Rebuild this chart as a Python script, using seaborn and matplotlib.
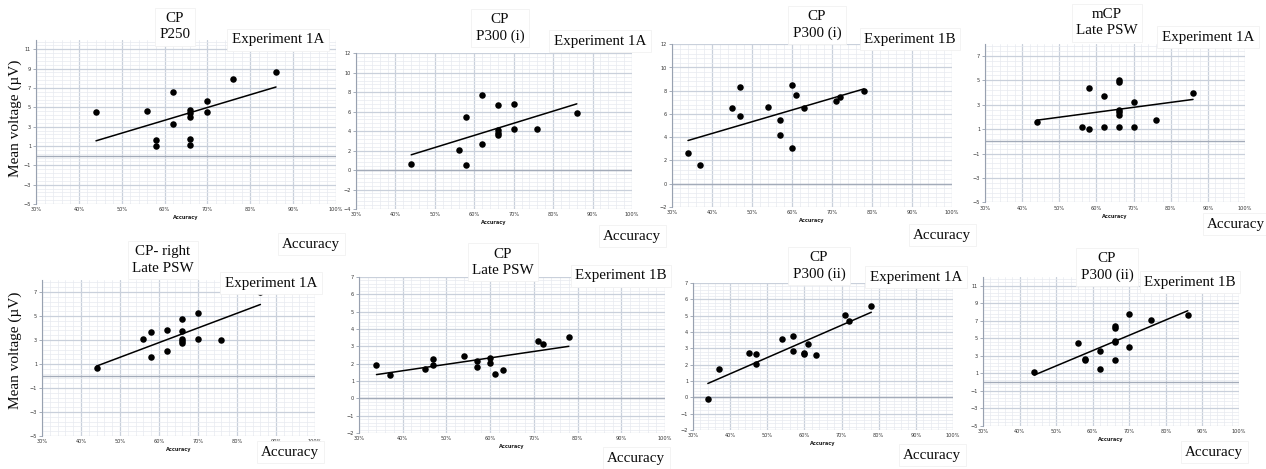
import matplotlib
matplotlib.use("Agg")
import matplotlib.pyplot as plt
import seaborn as sns
import pandas as pd
import numpy as np
from matplotlib.ticker import MultipleLocator, FixedLocator, PercentFormatter

sns.set_theme(style="white")
plt.rcParams['font.family'] = ['DejaVu Sans']

# ---------------- data (accuracy as fraction, mean voltage in µV) ----------------
p250_x = [0.44, 0.56, 0.58, 0.58, 0.62, 0.62, 0.66, 0.66, 0.66, 0.66, 0.66, 0.70, 0.70, 0.76, 0.86]
p250_y = [4.48, 4.59, 1.62, 1.00, 6.59, 3.31, 4.72, 4.38, 4.00, 1.76, 1.10, 5.66, 4.48, 7.97, 8.69]

p300i_1a_x = [0.44, 0.56, 0.58, 0.58, 0.62, 0.62, 0.66, 0.66, 0.66, 0.66, 0.70, 0.70, 0.76, 0.86]
p300i_1a_y = [0.58, 2.05, 5.45, 0.48, 7.67, 2.67, 6.64, 4.08, 3.84, 3.60, 6.78, 4.18, 4.25, 5.86]

p300i_1b_x = [0.34, 0.37, 0.45, 0.47, 0.47, 0.54, 0.57, 0.57, 0.60, 0.60, 0.61, 0.63, 0.71, 0.72, 0.78]
p300i_1b_y = [2.61, 1.61, 6.52, 8.28, 5.80, 6.58, 5.49, 4.14, 8.51, 3.10, 7.61, 6.52, 7.07, 7.47, 7.96]

mcp_psw_x = [0.44, 0.56, 0.58, 0.58, 0.62, 0.62, 0.66, 0.66, 0.66, 0.66, 0.66, 0.66, 0.70, 0.70, 0.76, 0.86]
mcp_psw_y = [1.60, 1.19, 4.36, 1.03, 3.70, 1.19, 5.02, 4.85, 2.58, 2.39, 2.12, 1.19, 3.21, 1.16, 1.77, 3.95]

cpr_psw_x = [0.44, 0.56, 0.58, 0.58, 0.62, 0.62, 0.66, 0.66, 0.66, 0.66, 0.66, 0.70, 0.70, 0.76, 0.86]
cpr_psw_y = [0.64, 3.11, 3.69, 1.56, 3.83, 2.08, 4.72, 3.75, 3.11, 2.94, 2.78, 5.22, 3.08, 3.03, 7.00]

cp_psw_x = [0.34, 0.37, 0.45, 0.47, 0.47, 0.54, 0.57, 0.57, 0.60, 0.60, 0.61, 0.63, 0.71, 0.72, 0.78]
cp_psw_y = [1.90, 1.35, 1.67, 2.27, 1.94, 2.46, 2.17, 1.81, 2.31, 2.02, 1.40, 1.62, 3.33, 3.12, 3.52]

p300ii_1a_x = [0.34, 0.37, 0.45, 0.47, 0.47, 0.54, 0.57, 0.57, 0.60, 0.60, 0.61, 0.63, 0.71, 0.72, 0.78]
p300ii_1a_y = [-0.12, 1.73, 2.69, 2.63, 2.02, 3.57, 3.76, 2.86, 2.71, 2.65, 3.29, 2.61, 5.04, 4.69, 5.59]

p300ii_1b_x = [0.44, 0.56, 0.58, 0.58, 0.62, 0.62, 0.66, 0.66, 0.66, 0.66, 0.66, 0.70, 0.70, 0.76, 0.86]
p300ii_1b_y = [1.15, 4.46, 2.63, 2.48, 3.59, 1.53, 6.44, 6.13, 4.69, 4.54, 2.48, 7.81, 4.04, 7.08, 7.62]

titles = ["CP\nP250", "CP\nP300 (i)", "CP\nP300 (i)", "mCP\nLate PSW",
          "CP- right\nLate PSW", "CP\nLate PSW", "CP\nP300 (ii)", "CP\nP300 (ii)"]
experiments = ["Experiment 1A", "Experiment 1A", "Experiment 1B", "Experiment 1A",
               "Experiment 1A", "Experiment 1B", "Experiment 1A", "Experiment 1B"]
xs = [p250_x, p300i_1a_x, p300i_1b_x, mcp_psw_x, cpr_psw_x, cp_psw_x, p300ii_1a_x, p300ii_1b_x]
ys = [p250_y, p300i_1a_y, p300i_1b_y, mcp_psw_y, cpr_psw_y, cp_psw_y, p300ii_1a_y, p300ii_1b_y]
ylims = [(-5, 12, 2), (-4, 12, 2), (-2, 12, 2), (-5, 8, 2),
         (-5, 8, 2), (-2, 7, 1), (-2, 7, 1), (-5, 12, 2)]

# ---------------- layout (pixels) ----------------
W, H = 1266, 469
fig = plt.figure(figsize=(W / 100, H / 100), dpi=100)
fig.patch.set_facecolor("white")

rects = [(36, 39.6, 336, 204), (356, 53.3, 632, 209), (672, 44.3, 952, 206.7), (985, 43.8, 1245, 202.3),
         (42, 280, 315, 436), (359, 277, 665, 433), (693, 283, 953, 430), (983, 277, 1239, 426)]
title_pos = [(175, 27), (500, 28), (817, 25), (1107, 23), (163, 260), (503, 262), (819, 266), (1107, 267)]
exp_pos = [(278, 40), (600, 41), (910, 39), (1208, 37), (271, 283), (621, 276), (916, 277), (1190, 282)]
acc_pos = [(311, 244), (632, 236), (942, 235), (1236, 224), (290, 452), (636, 458), (932, 455), (1214, 452)]


def px_rect(l, t, r, b):
    return [l / W, 1 - b / H, (r - l) / W, (b - t) / H]


serif = "Liberation Serif"
box = dict(boxstyle="square,pad=0.3", fc="white", ec="#f1f1f1", lw=0.6)
FS = 10.8

for i in range(8):
    ax = fig.add_axes(px_rect(*rects[i]))
    df = pd.DataFrame({"Accuracy": xs[i], "Voltage": ys[i]})
    ylo, yhi, ystep = ylims[i]
    ax.set_axisbelow(True)
    sns.regplot(data=df, x="Accuracy", y="Voltage", ax=ax, ci=None, color="black",
                scatter_kws=dict(s=22, linewidths=0, alpha=1, zorder=4),
                line_kws=dict(lw=1.1, zorder=3))
    ax.set_xlim(0.3, 1.0)
    ax.set_ylim(ylo, yhi)
    ax.xaxis.set_major_locator(MultipleLocator(0.1))
    ax.xaxis.set_minor_locator(MultipleLocator(0.02))
    yt = np.arange(ylo, yhi + 1e-6, ystep)
    ax.yaxis.set_major_locator(FixedLocator(yt))
    ax.yaxis.set_minor_locator(FixedLocator(np.arange(ylo, yhi + 1e-6, ystep / 5)))
    ax.xaxis.set_major_formatter(PercentFormatter(1.0, decimals=0))
    ax.grid(which="major", color="#c9d0db", lw=0.9)
    ax.grid(which="minor", color="#e7eaf0", lw=0.5)
    ax.axhline(0, color="#a3abb9", lw=1.0, zorder=2)
    for s in ["top", "right", "bottom"]:
        ax.spines[s].set_visible(False)
    ax.spines["left"].set_color("#98a1b0")
    ax.spines["left"].set_linewidth(0.8)
    ax.tick_params(axis="x", which="both", length=0, labelsize=3.6, pad=2.5, labelcolor="#333333")
    ax.tick_params(axis="y", which="major", length=2, width=0.6, color="#98a1b0",
                   labelsize=3.6, pad=1.5, labelcolor="#333333", left=True)
    ax.tick_params(axis="y", which="minor", length=0)
    ax.set_xlabel("Accuracy", fontsize=3.6, fontweight="bold", labelpad=2, color="#222222")
    ax.set_ylabel("")

    tx, ty = title_pos[i]
    fig.text(tx / W, 1 - ty / H, titles[i], ha="center", va="center", fontsize=FS,
             family=serif, linespacing=1.3, color="#0a0a0a", bbox=box, zorder=10)
    ex, ey = exp_pos[i]
    fig.text(ex / W, 1 - ey / H, experiments[i], ha="center", va="center", fontsize=FS,
             family=serif, color="#0a0a0a", bbox=box, zorder=10)
    ax_, ay_ = acc_pos[i]
    fig.text(ax_ / W, 1 - ay_ / H, "Accuracy", ha="center", va="center", fontsize=FS,
             family=serif, color="#0a0a0a", bbox=box, zorder=10)

fig.text(15 / W, 1 - 118 / H, "Mean voltage (µV)", rotation=90, ha="center", va="center",
         fontsize=11, family=serif, color="#0a0a0a")
fig.text(15 / W, 1 - 350 / H, "Mean voltage (µV)", rotation=90, ha="center", va="center",
         fontsize=11, family=serif, color="#0a0a0a")

fig.savefig("out.png", dpi=100, facecolor="white")
